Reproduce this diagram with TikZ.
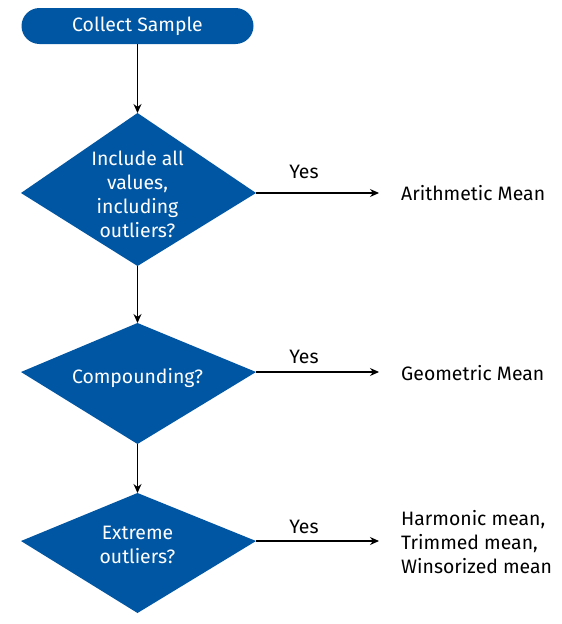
\documentclass[tikz,border=0pt]{standalone}
\usepackage{fontspec}
\setmainfont{Fira Sans}
\usetikzlibrary{arrows.meta}
\definecolor{fcblue}{RGB}{0,86,163}
\begin{document}
\begin{tikzpicture}[x=1pt,y=-1pt,
  shapefill/.style={fill=fcblue},
  wtext/.style={text=white,font=\fontsize{19.4}{24}\selectfont,align=center,inner sep=0pt},
  btext/.style={text=black,font=\fontsize{19.4}{24}\selectfont,align=left,inner sep=0pt,anchor=west},
  ytext/.style={text=black,font=\fontsize{19.4}{24}\selectfont,inner sep=0pt},
  flow/.style={-{Stealth[length=9pt,width=8pt]},line width=1.1pt,black}]
\useasboundingbox (0,0) rectangle (562,624);
% start
\node[shapefill, rounded corners=18pt, minimum width=232pt, minimum height=36pt, inner sep=0pt, text=white, font=\fontsize{19.4}{24}\selectfont] (start) at (137.5,26) {Collect Sample};
% diamond 1
\coordinate (d1t) at (137.5,113);
\coordinate (d1r) at (256,193);
\coordinate (d1b) at (137.5,266);
\coordinate (d1l) at (21,193);
\fill[shapefill] (d1t) -- (d1r) -- (d1b) -- (d1l) -- cycle;
\node[wtext] (q1) at (137.5,194) {Include all\\values,\\including\\outliers?};
% diamond 2
\coordinate (d2t) at (137.5,323);
\coordinate (d2r) at (256,372);
\coordinate (d2b) at (137.5,444);
\coordinate (d2l) at (21,372);
\fill[shapefill] (d2t) -- (d2r) -- (d2b) -- (d2l) -- cycle;
\node[wtext] (q2) at (137.5,378) {Compounding?};
% diamond 3
\coordinate (d3t) at (137.5,493);
\coordinate (d3r) at (256,541);
\coordinate (d3b) at (137.5,613);
\coordinate (d3l) at (21,541);
\fill[shapefill] (d3t) -- (d3r) -- (d3b) -- (d3l) -- cycle;
\node[wtext] (q3) at (137.5,545) {Extreme\\outliers?};
% vertical connectors
\draw[flow] (start.south) -- (d1t);
\draw[flow] (d1b) -- (d2t);
\draw[flow] (d2b) -- (d3t);
% horizontal connectors
\coordinate (e1) at (379,193);
\coordinate (e2) at (379,372);
\coordinate (e3) at (379,541);
\draw[flow] (d1r) -- (e1);
\draw[flow] (d2r) -- (e2);
\draw[flow] (d3r) -- (e3);
\node[ytext] (y1) at (304,172) {Yes};
\node[ytext] (y2) at (304,357) {Yes};
\node[ytext] (y3) at (304,527) {Yes};
% results
\node[btext] (r1) at (401,193) {Arithmetic Mean};
\node[btext] (r2) at (401,373) {Geometric Mean};
\node[btext] (r3) at (401,542) {Harmonic mean,\\Trimmed mean,\\Winsorized mean};
\end{tikzpicture}
\end{document}
